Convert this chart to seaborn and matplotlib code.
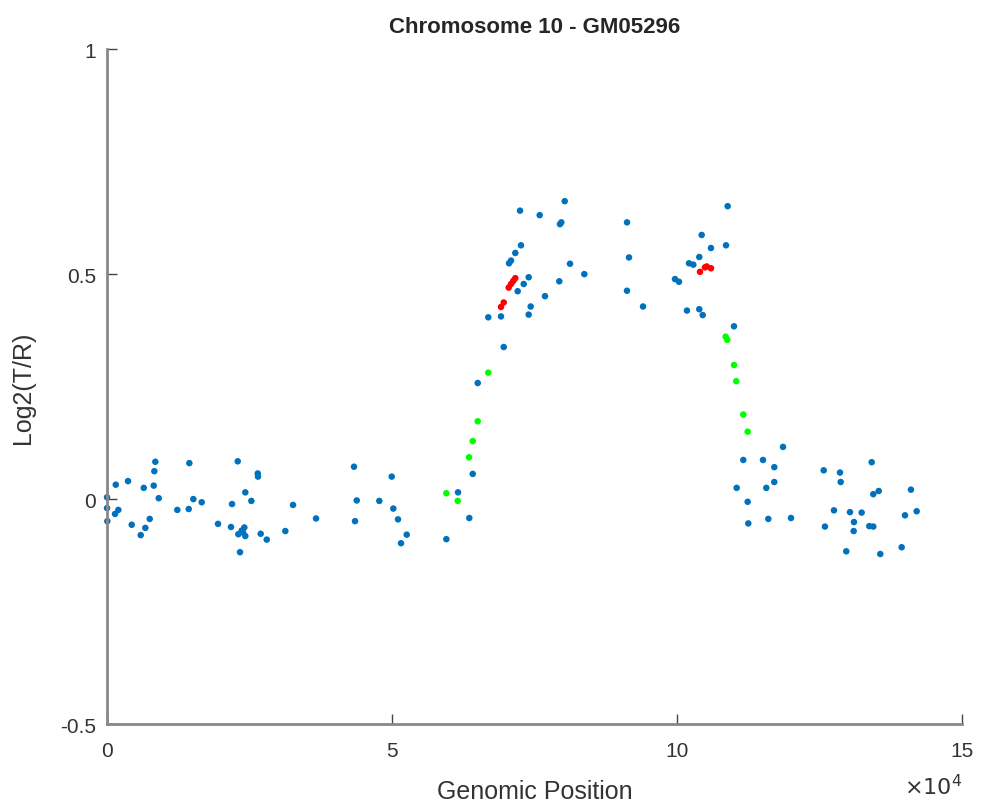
import pandas as pd
import matplotlib.pyplot as plt
import seaborn as sns

# --------------------------------------------------------------------------
# data (genomic position in 1e4 units, log2 ratio)
# --------------------------------------------------------------------------
blue_x = [0.0, 0.0, 0.005, 0.153, 0.140, 0.198, 0.368, 0.433, 0.591, 0.644,
          0.672, 0.749, 0.819, 0.847, 0.830, 0.907, 1.233, 1.433, 1.444, 1.514,
          1.661, 1.947, 2.175, 2.193, 2.293, 2.333, 2.304, 2.363, 2.409, 2.426,
          2.386, 2.426, 2.532, 2.644, 2.649, 2.696, 2.802, 3.128, 3.263, 3.667,
          4.333, 4.381, 4.351, 4.777, 4.995, 5.023, 5.105, 5.258, 5.158, 5.953,
          6.158, 6.356, 6.416, 6.504, 6.689, 6.912, 6.960, 7.205, 7.311, 7.398,
          7.433, 7.398, 7.684, 7.935, 8.374, 8.123, 7.053, 7.088, 7.163, 7.263,
          7.246, 7.591, 7.947, 7.970, 8.030, 9.123, 9.158, 9.123, 9.404, 9.965,
          10.035, 10.175, 10.211, 10.286, 10.391, 10.433, 10.391, 10.451, 10.596, 10.860,
          10.889, 11.000, 11.047, 11.163, 11.240, 11.251, 11.509, 11.567, 11.602, 11.707,
          11.707, 11.860, 12.000, 12.574, 12.596, 12.754, 12.860, 12.872, 12.970, 13.035,
          13.100, 13.105, 13.240, 13.374, 13.444, 13.416, 13.444, 13.539, 13.567, 13.942,
          14.000, 14.105, 14.205]
blue_y = [0.004, -0.020, -0.049, 0.032, -0.033, -0.024, 0.040, -0.057, -0.080, 0.025,
          -0.064, -0.044, 0.030, 0.083, 0.062, 0.002, -0.024, -0.022, 0.080, 0.000,
          -0.007, -0.055, -0.062, -0.011, 0.084, -0.118, -0.078, -0.070, -0.063, -0.082,
          -0.074, 0.015, -0.004, 0.057, 0.050, -0.077, -0.090, -0.071, -0.013, -0.043,
          0.072, -0.003, -0.049, -0.004, 0.050, -0.021, -0.045, -0.079, -0.098, -0.089,
          0.015, -0.042, 0.056, 0.258, 0.404, 0.406, 0.338, 0.462, 0.478, 0.493,
          0.428, 0.410, 0.451, 0.484, 0.500, 0.523, 0.524, 0.530, 0.547, 0.564,
          0.641, 0.631, 0.611, 0.615, 0.662, 0.615, 0.537, 0.463, 0.428, 0.489,
          0.483, 0.419, 0.524, 0.521, 0.538, 0.587, 0.422, 0.409, 0.558, 0.564,
          0.651, 0.384, 0.025, 0.087, -0.006, -0.054, 0.087, 0.025, -0.044, 0.071,
          0.038, 0.116, -0.042, 0.064, -0.061, -0.025, 0.059, 0.038, -0.116, -0.029,
          -0.071, -0.051, -0.030, -0.060, -0.061, 0.082, 0.011, 0.018, -0.122, -0.107,
          -0.036, 0.021, -0.027]

green_x = [5.953, 6.153, 6.351, 6.416, 6.504, 6.689, 10.854, 10.882, 11.000, 11.040,
           11.163, 11.240]
green_y = [0.013, -0.004, 0.093, 0.129, 0.173, 0.281, 0.361, 0.354, 0.298, 0.262,
           0.188, 0.150]

red_x = [6.912, 6.960, 7.047, 7.088, 7.128, 7.163, 10.404, 10.491, 10.521, 10.596]
red_y = [0.427, 0.437, 0.470, 0.478, 0.485, 0.491, 0.505, 0.515, 0.517, 0.513]

df = pd.concat([
    pd.DataFrame({'pos': blue_x, 'log2': blue_y, 'grp': 'probe'}),
    pd.DataFrame({'pos': green_x, 'log2': green_y, 'grp': 'edge'}),
    pd.DataFrame({'pos': red_x, 'log2': red_y, 'grp': 'peak'}),
])

# --------------------------------------------------------------------------
# plot
# --------------------------------------------------------------------------
sns.set_style('white')
plt.rcParams['font.family'] = ['Liberation Sans', 'DejaVu Sans']

fig = plt.figure(figsize=(9.82, 8.03), dpi=100)
ax = fig.add_axes([0.109, 0.097, 0.8706, 0.8406])

pal = {'probe': '#0072BD', 'edge': '#00FF00', 'peak': '#FF0000'}
sns.scatterplot(x='pos', y='log2', hue='grp', data=df, palette=pal,
                hue_order=['probe', 'edge', 'peak'], s=22, linewidth=0,
                legend=False, ax=ax, clip_on=False)

ax.set_xlim(0, 15)
ax.set_ylim(-0.5, 1)
ax.set_xticks([0, 5, 10, 15])
ax.set_xticklabels(['0', '5', '10', '15'])
ax.set_yticks([-0.5, 0, 0.5, 1])
ax.set_yticklabels(['-0.5', '0', '0.5', '1'])
ax.tick_params(bottom=True, left=True, direction='in', length=7, width=1,
               colors='#444444', labelsize=15, labelcolor='#333333')
ax.tick_params(axis='x', pad=12)
ax.tick_params(axis='y', pad=8)
for side in ['top', 'right']:
    ax.spines[side].set_visible(False)
for side in ['left', 'bottom']:
    ax.spines[side].set_color('#888888')
    ax.spines[side].set_linewidth(2)

ax.set_xlabel('Genomic Position', fontsize=18, color='#333333', labelpad=14)
ax.set_ylabel('Log2(T/R)', fontsize=18, color='#333333', labelpad=18)
ax.set_title('Chromosome 10 - GM05296', fontsize=16, fontweight='bold', pad=12)
ax.text(1.0, -0.092, r'$\times10^4$', transform=ax.transAxes, ha='right',
        va='center', fontsize=16, color='#333333')

fig.savefig('out.png', dpi=100)
